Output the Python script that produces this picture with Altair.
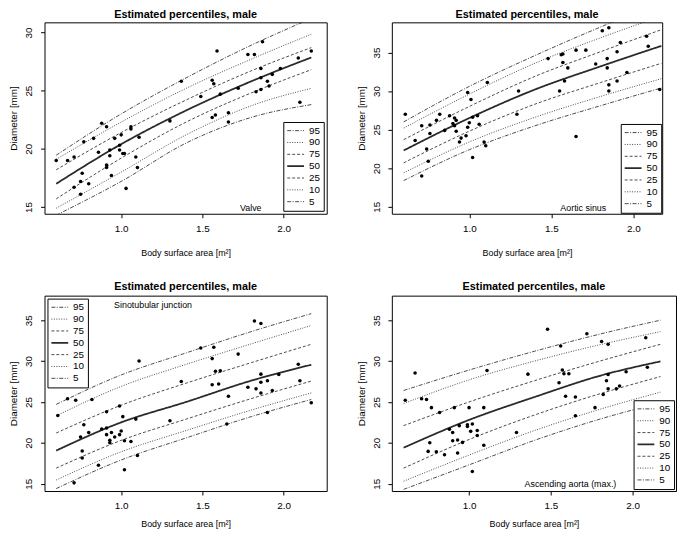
import altair as alt
import pandas as pd

FONT = "Liberation Sans"
TITLE = "Estimated percentiles, male"
PCTS = ["95", "90", "75", "50", "25", "10", "5"]
BSA_GRID = [0.6, 1.0, 1.4, 1.8, 2.17]
X_TICKS = [1.0, 1.5, 2.0]

# ---------------- Valve ----------------
valve_curves = {
    "95": [19.45, 23.0, 26.1, 28.9, 31.2],
    "90": [19.1, 22.3, 25.2, 27.7, 29.85],
    "75": [18.2, 21.4, 24.2, 26.7, 28.7],
    "50": [17.0, 20.4, 23.3, 25.8, 27.85],
    "25": [15.7, 19.2, 22.3, 24.8, 26.8],
    "10": [14.9, 18.0, 21.2, 23.7, 25.2],
    "5": [14.3, 17.2, 20.5, 22.7, 23.8],
}
valve_bsa = [0.60, 0.67, 0.71, 0.77, 0.83, 0.88, 0.91, 0.86, 0.76, 0.71, 0.75, 0.80, 0.75, 0.91,
             0.91, 0.93, 0.93, 0.96, 0.94, 0.99, 0.99, 1.00, 1.01, 1.02, 1.03, 1.06, 1.06, 1.10,
             1.09, 1.11, 1.30, 1.37, 1.49, 1.56, 1.57, 1.59, 1.61, 1.56, 1.58, 1.66, 1.66, 1.72,
             1.78, 1.82, 1.87, 1.86, 1.83, 1.86, 1.86, 1.93, 1.90, 1.91, 1.98, 2.09, 2.10, 2.17]
valve_diam = [19.0, 19.0, 19.3, 20.6, 20.9, 22.2, 21.9, 19.7, 17.9, 16.7, 17.2, 17.0, 16.1, 18.6,
              18.4, 19.4, 19.9, 20.9, 17.7, 19.9, 20.3, 21.2, 19.6, 19.6, 16.6, 21.9, 21.7, 18.4,
              19.3, 21.0, 22.4, 25.8, 24.5, 25.9, 25.6, 28.4, 24.7, 22.7, 22.9, 23.1, 22.3, 25.2,
              28.1, 28.1, 29.2, 26.9, 24.9, 25.1, 26.1, 26.4, 25.8, 25.4, 26.9, 27.8, 24.0, 28.4]

# ---------------- Aortic sinus ----------------
sinus_curves = {
    "95": [26.0, 30.6, 34.6, 38.3, 41.5],
    "90": [25.2, 29.6, 33.6, 36.9, 39.7],
    "75": [23.7, 28.0, 31.9, 35.1, 37.95],
    "50": [22.3, 26.5, 30.2, 33.2, 35.85],
    "25": [20.7, 24.8, 28.3, 31.1, 33.6],
    "10": [19.4, 23.4, 26.6, 29.3, 31.6],
    "5": [18.4, 22.4, 25.5, 28.1, 30.4],
}
sinus_bsa = [0.61, 0.67, 0.71, 0.74, 0.75, 0.71, 0.76, 0.76, 0.80, 0.82, 0.85, 0.88, 0.90, 0.91,
             0.91, 0.92, 0.92, 0.94, 0.95, 0.98, 0.99, 0.99, 1.00, 1.01, 1.02, 1.02, 1.05, 1.06,
             1.09, 1.10, 1.11, 1.29, 1.30, 1.48, 1.55, 1.56, 1.57, 1.57, 1.58, 1.60, 1.65, 1.65,
             1.71, 1.77, 1.81, 1.85, 1.84, 1.84, 1.85, 1.85, 1.90, 1.90, 1.92, 1.96, 2.08, 2.09, 2.16]
sinus_diam = [27.0, 23.6, 25.5, 22.5, 20.9, 19.0, 25.6, 24.5, 26.2, 27.0, 24.9, 26.8, 25.8, 25.5,
              26.5, 26.2, 24.8, 23.4, 23.9, 24.2, 25.3, 29.8, 25.9, 28.9, 26.6, 21.4, 26.8, 25.7,
              23.4, 22.9, 31.1, 27.0, 30.0, 34.2, 30.0, 34.7, 34.8, 33.7, 31.3, 33.0, 35.3, 24.1,
              35.3, 33.5, 37.8, 38.2, 34.2, 33.0, 30.8, 30.0, 31.3, 35.1, 36.3, 32.4, 37.1, 35.8, 30.2]

# ---------------- Sinotubular junction ----------------
stj_curves = {
    "95": [24.7, 28.3, 31.0, 33.6, 35.8],
    "90": [23.3, 26.9, 29.6, 32.1, 34.35],
    "75": [21.2, 24.6, 27.3, 29.8, 32.05],
    "50": [19.05, 22.5, 25.0, 27.6, 29.55],
    "25": [16.9, 20.3, 22.9, 25.4, 27.55],
    "10": [15.45, 18.9, 21.5, 24.0, 26.1],
    "5": [14.4, 17.9, 20.6, 23.2, 25.3],
}
stj_bsa = [0.61, 0.67, 0.72, 0.82, 0.77, 0.75, 0.80, 0.76, 0.76, 0.71, 0.86, 0.88, 0.91, 0.91,
           0.91, 0.94, 0.93, 0.93, 0.96, 0.99, 1.00, 0.99, 1.01, 1.02, 1.06, 1.02, 1.09, 1.10, 1.11,
           1.30, 1.37, 1.49, 1.56, 1.56, 1.57, 1.58, 1.60, 1.61, 1.66, 1.65, 1.72, 1.78, 1.82,
           1.83, 1.86, 1.86, 1.86, 1.86, 1.90, 1.90, 1.93, 1.97, 2.09, 2.10, 2.17]
stj_diam = [23.35, 25.4, 25.2, 25.3, 22.2, 20.7, 21.25, 19.0, 18.15, 15.1, 17.25, 21.7, 21.8, 23.8,
            21.0, 21.25, 20.3, 20.0, 20.7, 21.0, 21.45, 24.5, 23.2, 20.25, 20.15, 16.7, 22.9, 18.45, 30.0,
            22.7, 27.5, 31.6, 30.3, 27.1, 31.7, 28.75, 27.2, 28.8, 25.7, 22.3, 30.85, 26.8, 34.9,
            26.6, 34.6, 27.4, 28.4, 26.1, 27.6, 23.7, 26.4, 28.35, 29.6, 27.6, 24.9]

# ---------------- Ascending aorta (max.) ----------------
asc_curves = {
    "95": [26.4, 28.9, 31.2, 33.3, 35.0],
    "90": [24.8, 27.7, 30.0, 32.0, 33.6],
    "75": [22.1, 25.0, 27.6, 30.0, 32.05],
    "50": [19.4, 22.8, 25.6, 28.2, 29.96],
    "25": [16.9, 20.4, 23.4, 26.0, 28.1],
    "10": [15.3, 18.5, 21.5, 24.1, 26.2],
    "5": [14.3, 17.3, 20.3, 22.9, 24.9],
}
asc_bsa = [0.61, 0.67, 0.71, 0.74, 0.77, 0.76, 0.75, 0.80, 0.82, 0.85, 0.88, 0.90, 0.90, 0.91,
           0.93, 0.93, 0.94, 0.96, 0.99, 0.99, 1.00, 1.01, 1.02, 1.02, 1.05, 1.05, 1.09, 1.09, 1.11,
           1.29, 1.36, 1.48, 1.55, 1.56, 1.57, 1.58, 1.61, 1.59, 1.65, 1.65, 1.72, 1.77, 1.81,
           1.82, 1.84, 1.85, 1.85, 1.85, 1.90, 1.92, 1.96, 2.08, 2.09]
asc_diam = [25.2, 28.55, 25.4, 25.3, 24.3, 20.0, 18.95, 18.9, 23.7, 18.55, 21.65, 21.25, 20.25, 24.3,
            20.35, 18.75, 22.1, 20.05, 22.0, 22.2, 24.3, 21.4, 22.3, 16.5, 21.5, 20.9, 24.3, 19.7, 28.85,
            21.25, 28.4, 33.9, 27.35, 31.85, 28.9, 28.45, 28.45, 25.7, 25.6, 23.3, 33.35, 24.3, 32.4,
            25.9, 27.6, 28.35, 32.05, 26.6, 26.6, 26.95, 28.7, 32.85, 29.25]

# ---------------- styling ----------------
DOTDASH = [4, 1.5, 1, 1.5]
DOTTED = [1, 1.5]
DASHED = [3, 2]
SOLID = [1, 0]
DASH_RANGE = [DOTDASH, DOTTED, DASHED, SOLID, DASHED, DOTTED, DOTDASH]
WIDTH_RANGE = [0.85, 0.85, 0.85, 1.8, 0.85, 0.85, 0.85]


def curve_frame(curves):
    rows = []
    for p in PCTS:
        for x, y in zip(BSA_GRID, curves[p]):
            rows.append({"bsa": x, "diam": y, "pct": p})
    return pd.DataFrame(rows)


def panel(curves, bsa, diam, label, xdom, ydom, yticks, w, h, orient, loff, lx, ly, toff, xtpad):
    xs = alt.Scale(domain=xdom, nice=False, zero=False)
    ys = alt.Scale(domain=ydom, nice=False, zero=False)
    xax = alt.Axis(values=X_TICKS, format=".1f", title="Body surface area [m²]",
                   labelPadding=6, titlePadding=xtpad)
    yax = alt.Axis(values=yticks, format="d", title="Diameter [mm]")
    leg = alt.Legend(orient=orient, title=None, offset=loff, padding=3, rowPadding=0,
                     clipHeight=11.5,
                     strokeColor="black", fillColor="white", symbolType="stroke",
                     symbolSize=290, labelOffset=4, labelFontSize=10, labelFont=FONT,
                     labelColor="black", cornerRadius=0)
    lines = alt.Chart(curve_frame(curves)).mark_line(
        clip=True, color="#2a2a2a", interpolate="monotone"
    ).encode(
        x=alt.X("bsa:Q", scale=xs, axis=xax),
        y=alt.Y("diam:Q", scale=ys, axis=yax),
        strokeDash=alt.StrokeDash("pct:O", scale=alt.Scale(domain=PCTS, range=DASH_RANGE), legend=leg),
        strokeWidth=alt.StrokeWidth("pct:O", scale=alt.Scale(type="ordinal", domain=PCTS, range=WIDTH_RANGE), legend=leg),
    )
    pts = alt.Chart(pd.DataFrame({"bsa": bsa, "diam": diam})).mark_circle(
        size=13, color="black", opacity=1, clip=True
    ).encode(
        x=alt.X("bsa:Q", scale=xs, axis=xax),
        y=alt.Y("diam:Q", scale=ys, axis=yax),
    )
    txt = alt.Chart(pd.DataFrame({"t": [label]})).mark_text(
        font=FONT, fontSize=9, color="black", align="center", baseline="middle"
    ).encode(text="t:N", x=alt.value(lx), y=alt.value(ly))
    return alt.layer(lines, pts, txt).properties(
        width=w, height=h,
        title=alt.TitleParams(TITLE, fontSize=11, fontWeight="bold", font=FONT,
                              offset=toff, anchor="middle", color="black"),
    )


p1 = panel(valve_curves, valve_bsa, valve_diam, "Valve", [0.528, 2.265], [14.42, 30.87],
           [15, 20, 25, 30], 286, 194, "bottom-right", 3, 209, 188, 2, 15)
p2 = panel(sinus_curves, sinus_bsa, sinus_diam, "Aortic sinus", [0.528, 2.175], [14.1, 38.9],
           [15, 20, 25, 30, 35], 274, 194, "bottom-right", 1, 194, 188, 2, 15)
p3 = panel(stj_curves, stj_bsa, stj_diam, "Sinotubular junction", [0.528, 2.265], [14.1, 38.0],
           [15, 20, 25, 30, 35], 286, 198, "top-left", 3, 110, 9, 4, 9)
p4 = panel(asc_curves, asc_bsa, asc_diam, "Ascending aorta (max.)", [0.528, 2.265], [14.1, 38.0],
           [15, 20, 25, 30, 35], 288, 198, "bottom-right", 2, 181, 191, 4, 9)

RES = dict(x="independent", y="independent", strokeDash="independent", strokeWidth="independent")
LRES = dict(strokeDash="independent", strokeWidth="independent")

row1 = alt.hconcat(p1, p2, spacing=28).resolve_scale(**RES).resolve_legend(**LRES)
row2 = alt.hconcat(p3, p4, spacing=28).resolve_scale(**RES).resolve_legend(**LRES)

chart = (
    alt.vconcat(row1, row2, spacing=22)
    .resolve_scale(**RES)
    .resolve_legend(**LRES)
    .properties(padding={"left": 0, "top": -3, "right": 0, "bottom": 0})
    .configure_view(stroke="black", strokeWidth=1)
    .configure_axis(grid=False, domain=False, tickSize=4, tickColor="black",
                    labelFont=FONT, titleFont=FONT, labelColor="black", titleColor="black",
                    labelFontSize=10, titleFontWeight="normal")
    .configure_axisX(titleFontSize=9)
    .configure_axisY(labelAngle=270, labelPadding=7, titleFontSize=10, titlePadding=5)
)

chart.save("out.html", embed_options={"renderer": "svg", "actions": False})
